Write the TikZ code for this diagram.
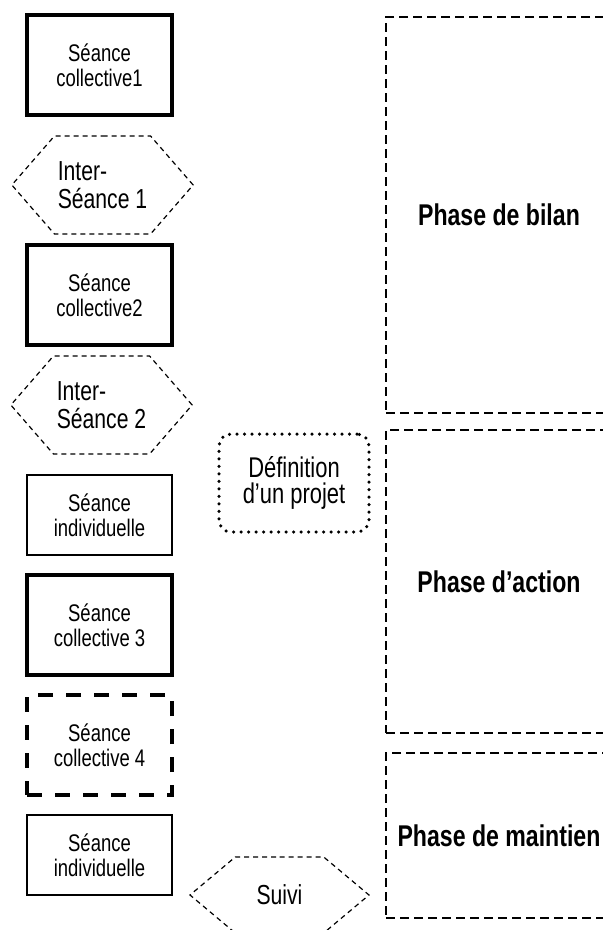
\documentclass[tikz,border=0pt]{standalone}
\usepackage{fontspec}
\setmainfont[FakeStretch=0.77]{Liberation Sans}
\usetikzlibrary{positioning,shapes.symbols}

\begin{document}
\begin{tikzpicture}[x=1pt, y=-1pt, node distance=110pt,
  seance/.style={rectangle, draw, line width=3.5pt, minimum width=145pt, minimum height=100pt, align=center, font=\fontsize{24}{25}\selectfont},
  seanceind/.style={seance, line width=1.3pt, minimum height=80pt},
  seancetiret/.style={seance, dash pattern=on 15pt off 13pt},
  interseance/.style={signal, signal to=east and west, draw, line width=1.2pt, dash pattern=on 5pt off 4pt, minimum width=179pt, minimum height=98pt, signal pointer angle=98, align=left, font=\fontsize{27.5}{28}\selectfont},
  projet/.style={rectangle, rounded corners=12pt, draw, line width=3.5pt, line cap=round, dash pattern=on 0pt off 7.5pt, minimum width=150pt, minimum height=98pt, align=center, font=\fontsize{28.5}{26}\selectfont},
  phase/.style={rectangle, draw, line width=1.3pt, dash pattern=on 9pt off 5pt, font=\bfseries\fontsize{30}{30}\selectfont}]

  \useasboundingbox (0,0) rectangle (603,930);

  % colonne des seances
  \node[seance] (sc1) at (99.5,65) {Séance\\collective1};
  \node[interseance, node distance=120pt, below of=sc1, xshift=3pt] (is1) {Inter-\\Séance 1};
  \node[seance, below of=is1, xshift=-3pt] (sc2) {Séance\\collective2};
  \node[interseance, below of=sc2, xshift=2pt] (is2) {Inter-\\Séance 2};
  \node[seanceind, below of=is2, xshift=-2pt] (si1) {Séance\\individuelle};
  \node[seance, below of=si1] (sc3) {Séance\\collective 3};
  \node[seancetiret, node distance=120pt, below of=sc3] (sc4) {Séance\\collective 4};
  \node[seanceind, below of=sc4] (si2) {Séance\\individuelle};

  \node[projet] (def) at (294,483) {Définition\\d’un projet};
  \node[interseance, minimum height=76pt, signal pointer angle=80, align=center] (suivi) at (279.5,895) {Suivi};

  % phases
  \node[phase, minimum width=226pt, minimum height=396pt] (bilan) at (499,215) {Phase de bilan};
  \node[phase, minimum width=226pt, minimum height=303pt] (action) at (499,581.5) {Phase d’action};
  \node[phase, minimum width=226pt, minimum height=165pt] (maintien) at (499,835.5) {Phase de maintien};

\end{tikzpicture}
\end{document}
